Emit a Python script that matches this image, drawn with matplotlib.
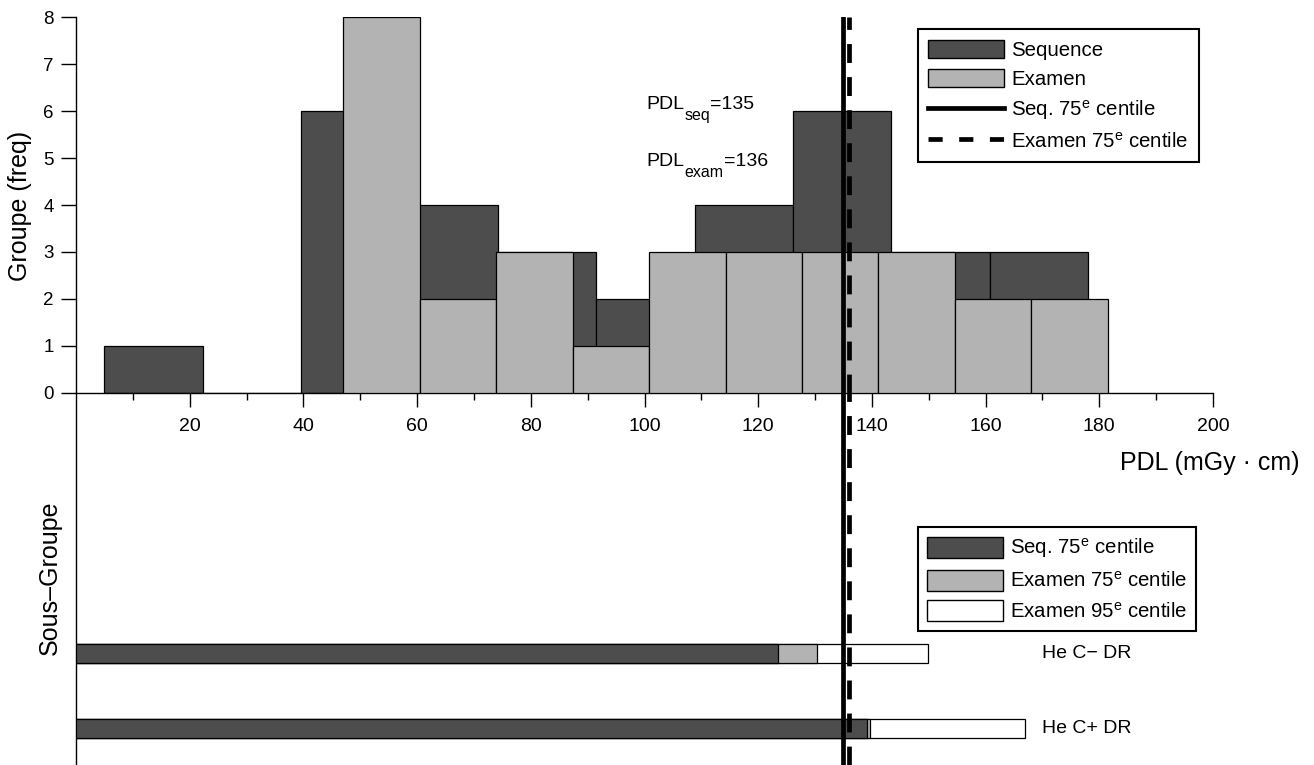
import numpy as np
import matplotlib
matplotlib.use('Agg')
import matplotlib.pyplot as plt
from matplotlib.patches import Patch
from matplotlib.lines import Line2D

plt.rcParams['font.family'] = ['Liberation Sans', 'DejaVu Sans']
plt.rcParams['mathtext.fontset'] = 'custom'
plt.rcParams['mathtext.rm'] = 'Liberation Sans'
plt.rcParams['mathtext.it'] = 'Liberation Sans:italic'

# Histogram data (PDL, mGy.cm)
seq_edges = [5.0, 22.3, 39.6, 56.9, 74.2, 91.5, 108.8, 126.1, 143.4, 160.7, 178.0]
seq_counts = [1, 0, 6, 4, 3, 2, 4, 6, 3, 3]
exam_edges = [47.0, 60.45, 73.9, 87.35, 100.8, 114.25, 127.7, 141.15, 154.6, 168.05, 181.5]
exam_counts = [8, 2, 3, 1, 3, 3, 3, 3, 2, 2]

pdl_seq = 135
pdl_exam = 136

# Sub-groups
subgroups = ['He C+ DR', 'He C\u2212 DR']
seq75 = [139.2, 123.5]
exam75 = [139.6, 130.3]
exam95 = [167.0, 149.9]

dark = '#4d4d4d'
light = '#b3b3b3'

W, H = 1314, 765
fig = plt.figure(figsize=(W / 100, H / 100), dpi=100)
ax = fig.add_axes([76 / W, (H - 392.7) / H, (1213 - 76) / W, (392.7 - 17.3) / H])
ax2 = fig.add_axes([76 / W, 0, (1213 - 76) / W, (H - 392.7) / H])

# top: histograms
ax.bar(seq_edges[:-1], seq_counts, width=np.diff(seq_edges), align='edge',
       color=dark, edgecolor='black', linewidth=0.9, zorder=2)
ax.bar(exam_edges[:-1], exam_counts, width=np.diff(exam_edges), align='edge',
       color=light, edgecolor='black', linewidth=0.9, zorder=3)
ax.axvline(pdl_seq, color='black', lw=3.4, zorder=5)
ax.axvline(pdl_exam, color='black', lw=3.4, ls=(0, (4, 3)), zorder=5)


def label_sub(x, y, main, sub, rest):
    # main text, lowered subscript, then the rest (offsets in points)
    ax.text(x, y, main, fontsize=14, va='baseline')
    w_main = 1.945 * 14
    ax.annotate(sub, (x, y), xytext=(w_main, -7.9), textcoords='offset points',
                fontsize=11.5, va='baseline')
    w_sub = {'seq': 1.612, 'exam': 2.445}[sub] * 11.5
    ax.annotate(rest, (x, y), xytext=(w_main + w_sub, 0), textcoords='offset points',
                fontsize=14, va='baseline')


label_sub(100.4, 6.05, 'PDL', 'seq', '=%d' % pdl_seq)
label_sub(100.4, 4.83, 'PDL', 'exam', '=%d' % pdl_exam)

ax.set_xlim(0, 200)
ax.set_ylim(0, 8)
ax.set_xticks(range(20, 201, 20))
ax.set_xticks(range(10, 200, 20), minor=True)
ax.set_yticks(range(0, 9))
ax.tick_params(axis='x', which='major', length=10, width=1, labelsize=14, pad=8)
ax.tick_params(axis='x', which='minor', length=5, width=1)
ax.tick_params(axis='y', length=11, width=1, labelsize=13.5, pad=5)
for s in ['top', 'right']:
    ax.spines[s].set_visible(False)
ax.spines['left'].set_linewidth(1)
ax.spines['bottom'].set_linewidth(1)
ax.set_facecolor('none')

leg1 = ax.legend(handles=[
    Patch(facecolor=dark, edgecolor='black', label='Sequence'),
    Patch(facecolor=light, edgecolor='black', label='Examen'),
    Line2D([], [], color='black', lw=3.4, label=r'Seq. 75$^{\mathrm{e}}$ centile'),
    Line2D([], [], color='black', lw=3.4, ls=(0, (3, 3.5)), label=r'Examen 75$^{\mathrm{e}}$ centile')],
    loc='upper left', bbox_to_anchor=(918 / W, 1 - 29.3 / H), bbox_transform=fig.transFigure,
    borderaxespad=0, fontsize=14.7, handlelength=3.7, handleheight=1.0, handletextpad=0.35,
    labelspacing=0.45, borderpad=0.5, fancybox=False, edgecolor='black', framealpha=1)
leg1.get_frame().set_linewidth(1.5)

# bottom: sub-group bars
ypos = np.arange(len(subgroups))
bh = 0.25
ax2.barh(ypos, exam95, height=bh, color='white', edgecolor='black', linewidth=0.9, zorder=2)
ax2.barh(ypos, exam75, height=bh, color=light, edgecolor='black', linewidth=0.9, zorder=3)
ax2.barh(ypos, seq75, height=bh, color=dark, edgecolor='black', linewidth=0.9, zorder=4)
ax2.axvline(pdl_seq, color='black', lw=3.4, zorder=5)
ax2.axvline(pdl_exam, color='black', lw=3.4, ls=(0, (4, 3)), zorder=5)
for y, name in zip(ypos, subgroups):
    ax2.text(170, y, name, fontsize=14, va='center')

ax2.set_xlim(0, 200)
ax2.set_ylim(-0.49, 4.47)
ax2.set_xticks([])
ax2.set_yticks([])
for s in ['top', 'right', 'bottom']:
    ax2.spines[s].set_visible(False)
ax2.spines['left'].set_linewidth(1)
ax2.set_facecolor('none')

leg2 = ax2.legend(handles=[
    Patch(facecolor=dark, edgecolor='black', label=r'Seq. 75$^{\mathrm{e}}$ centile'),
    Patch(facecolor=light, edgecolor='black', label=r'Examen 75$^{\mathrm{e}}$ centile'),
    Patch(facecolor='white', edgecolor='black', label=r'Examen 95$^{\mathrm{e}}$ centile')],
    loc='upper left', bbox_to_anchor=(918 / W, 1 - 527.3 / H), bbox_transform=fig.transFigure,
    borderaxespad=0, fontsize=14.7, handlelength=3.7, handleheight=1.2, handletextpad=0.35,
    labelspacing=0.45, borderpad=0.45, fancybox=False, edgecolor='black', framealpha=1)
leg2.get_frame().set_linewidth(1.5)

fig.text(20 / W, 1 - 206 / H, 'Groupe (freq)', rotation=90, fontsize=18, ha='center', va='center')
fig.text(50 / W, 1 - 578 / H, 'Sous\u2013Groupe', rotation=90, fontsize=18, ha='center', va='center')
fig.text(1299 / W, 1 - 463 / H, 'PDL (mGy \u00b7 cm)', fontsize=18, ha='right', va='center')

fig.savefig('out.png', dpi=100)
